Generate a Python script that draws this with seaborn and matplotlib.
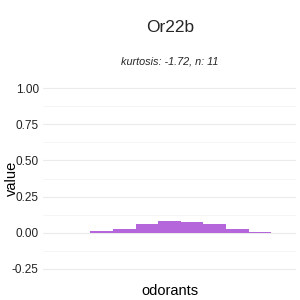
import matplotlib
matplotlib.use("Agg")
import matplotlib.pyplot as plt
import seaborn as sns
import pandas as pd
import numpy as np

odorants = [f"o{i}" for i in range(1, 12)]
values = [0.0, 0.0, 0.012, 0.028, 0.062, 0.082, 0.076, 0.062, 0.028, 0.006, 0.0]
yticks = [-0.25, 0.0, 0.25, 0.5, 0.75, 1.0]
ytick_labels = ["-0.25", "0.00", "0.25", "0.50", "0.75", "1.00"]
title = "Or22b"
subtitle = "kurtosis: -1.72, n: 11"

sns.set_theme(style="white")
plt.rcParams['font.family'] = ['Liberation Sans', 'DejaVu Sans']

df = pd.DataFrame({"odorant": odorants, "value": values})

fig = plt.figure(figsize=(3, 3), dpi=100)
ax = fig.add_axes([43/300, 22/300, 253/300, 199/300])
sns.barplot(data=df, x="odorant", y="value", order=odorants, color="#B566DB",
            width=1.0, saturation=1, ax=ax, edgecolor="none", linewidth=0)
ax.set_xlim(-0.6, 10.6)
ax.set_ylim(-0.3125, 1.0625)
ax.set_yticks(yticks)
ax.set_yticklabels(ytick_labels, fontsize=8.5, color="#222222")
for m in [-0.125, 0.125, 0.375, 0.625, 0.875]:
    ax.axhline(m, color="#F2F2F2", lw=0.5, zorder=0)
for t in yticks:
    ax.axhline(t, color="#EBEBEB", lw=0.8, zorder=0)
ax.set_xticks([])
ax.tick_params(axis="y", length=0, pad=3)
for s in ax.spines.values():
    s.set_visible(False)
ax.set_xlabel("odorants", fontsize=10.5, labelpad=4, color="black")
ax.set_ylabel("")
fig.text(12/300, 1 - 178/300, "value", rotation=90, ha="center", va="center",
         fontsize=10.5, color="black")
fig.text(0.5667, 1 - 28/300, title, ha="center", va="center", fontsize=12.5)
fig.text(0.5667, 1 - 62/300, subtitle, ha="center", va="center", fontsize=7.8, style="italic")
fig.savefig("out.png", dpi=100)
